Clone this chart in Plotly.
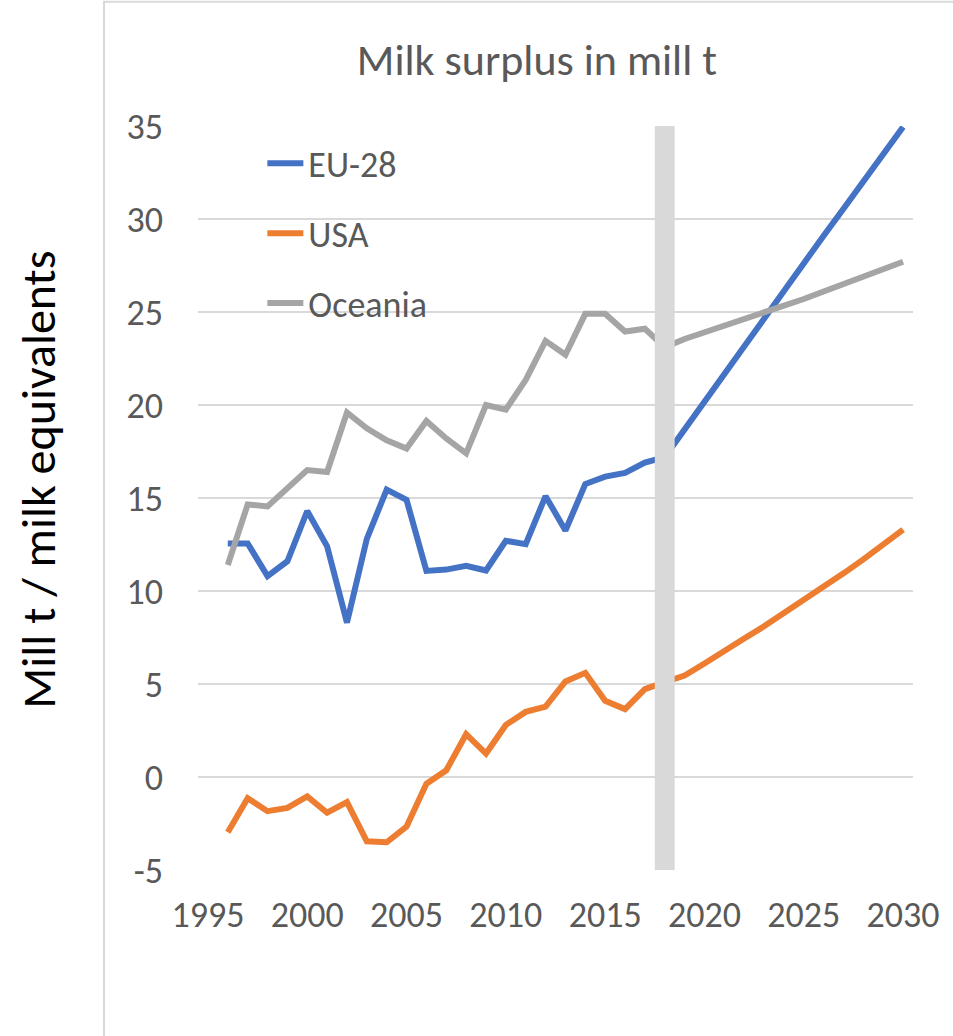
import plotly.graph_objects as go

# Years covered: history up to 2017, projection 2018-2030
years = list(range(1996, 2031))

eu28 = [12.56, 12.56, 10.8, 11.6, 14.3, 12.4, 8.3, 12.8, 15.45, 14.9,
        11.08, 11.15, 11.35, 11.1, 12.7, 12.52, 15.1, 13.25, 15.75, 16.15,
        16.35, 16.9, 17.2, 18.7, 20.2, 21.65, 23.1, 24.6, 26.1, 27.6,
        29.1, 30.55, 32.0, 33.5, 34.95]

usa = [-2.97, -1.14, -1.84, -1.66, -1.04, -1.92, -1.35, -3.46, -3.51, -2.66,
       -0.36, 0.36, 2.3, 1.26, 2.8, 3.5, 3.78, 5.14, 5.6, 4.1,
       3.65, 4.72, 5.1, 5.45, 6.1, 6.8, 7.45, 8.1, 8.8, 9.5,
       10.2, 10.95, 11.7, 12.5, 13.3]

oceania = [11.4, 14.65, 14.55, 15.5, 16.5, 16.4, 19.6, 18.75, 18.1, 17.66,
           19.14, 18.2, 17.4, 20.0, 19.75, 21.35, 23.45, 22.7, 24.9, 24.9,
           23.95, 24.1, 23.1, 23.55, 23.9, 24.25, 24.6, 25.0, 25.35, 25.7,
           26.1, 26.5, 26.9, 27.3, 27.7]

series_names = ["EU-28", "USA", "Oceania"]
series_colors = ["#4472C4", "#ED7D31", "#A5A5A5"]

x_ticks = [1995, 2000, 2005, 2010, 2015, 2020, 2025, 2030]
y_ticks = [-5, 0, 5, 10, 15, 20, 25, 30, 35]
y_tick_labels = ["-5", "0", "5", "10", "15", "20", "25", "30", "35"]

# Start of the projection period, marked with a vertical band
projection_start = 2018

FONT = "Calibri, Carlito, Lato, sans-serif"
TEXT_GREY = "#595959"
GRID = "#D9D9D9"

fig = go.Figure()
for name, vals, col in zip(series_names, [eu28, usa, oceania], series_colors):
    fig.add_trace(go.Scatter(
        x=years, y=vals, mode="lines", name=name, legendgroup=name,
        line=dict(color=col, width=6),
    ))

# vertical band separating history and projection
fig.add_shape(
    type="rect", xref="x", yref="y",
    x0=projection_start - 0.5, x1=projection_start + 0.5,
    y0=y_ticks[0], y1=y_ticks[-1],
    fillcolor=GRID, line=dict(width=0), layer="above",
)

# chart-area frame (left and top edges visible)
fig.add_shape(
    type="rect", xref="paper", yref="paper",
    x0=-0.1315, x1=1.08, y0=1.1669, y1=-0.25,
    line=dict(color="#D9D9D9", width=2), fillcolor="rgba(0,0,0,0)",
    layer="below",
)

fig.add_annotation(
    text="Mill t / milk equivalents", xref="paper", yref="paper",
    x=-0.223, y=0.524, textangle=-90, showarrow=False,
    font=dict(family=FONT, size=48, color="#000000"),
    xanchor="center", yanchor="middle",
)

fig.update_layout(
    width=953, height=1036,
    margin=dict(l=198, r=40, t=126, b=166, autoexpand=False),
    paper_bgcolor="white", plot_bgcolor="white",
    title=dict(
        text="Milk surplus in mill t", x=0.474, xref="paper",
        y=1 - 60 / 1036, yref="container", xanchor="center", yanchor="middle",
        font=dict(family=FONT, size=44, color=TEXT_GREY),
    ),
    legend=dict(
        x=0.09, y=0.99, xanchor="left", yanchor="top",
        bgcolor="rgba(0,0,0,0)", tracegroupgap=20,
        font=dict(family=FONT, size=36, color=TEXT_GREY),
        itemwidth=36,
    ),
    showlegend=True,
)

fig.update_xaxes(
    range=[1994.5, 2030.5], tickvals=x_ticks, showgrid=False,
    zeroline=False, showline=False, ticks="",
    tickfont=dict(family=FONT, size=36, color=TEXT_GREY),
    ticklabelstandoff=20,
)
fig.update_yaxes(
    range=[y_ticks[0], y_ticks[-1]], tickvals=y_ticks, ticktext=y_tick_labels,
    showgrid=True, gridcolor=GRID, gridwidth=2,
    zeroline=False, showline=False, ticks="",
    tickfont=dict(family=FONT, size=36, color=TEXT_GREY),
    ticklabelstandoff=34,
)

fig.write_html("out.html")
